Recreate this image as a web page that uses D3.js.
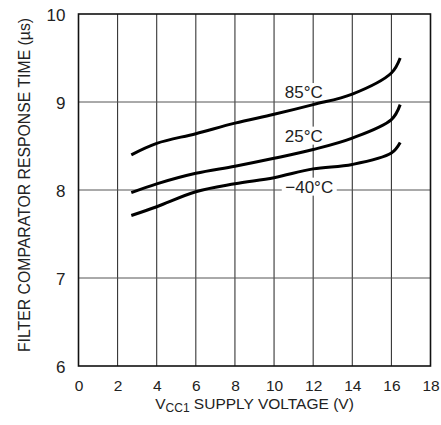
<!DOCTYPE html>
<html><head><meta charset="utf-8">
<script src="https://cdn.jsdelivr.net/npm/d3@7"></script>
<style>
body{margin:0;background:#fff;}
text{font-family:"Liberation Sans",Arial,Helvetica,sans-serif;fill:#222;}
</style></head>
<body><svg id="c" width="441" height="425"></svg>
<script>
const xVals = [2.7, 4, 6, 8, 10, 12, 14, 16, 16.45];
const t85 = [8.40, 8.53, 8.64, 8.76, 8.86, 8.97, 9.09, 9.33, 9.50];
const t25 = [7.97, 8.07, 8.19, 8.27, 8.36, 8.46, 8.59, 8.80, 8.97];
const tm40 = [7.71, 7.81, 7.98, 8.07, 8.14, 8.24, 8.29, 8.42, 8.54];
const seriesNames = ["85°C", "25°C", "−40°C"];
const xTicks = [0,2,4,6,8,10,12,14,16,18];
const yTicks = [6,7,8,9,10];

const svg = d3.select("#c");
const x = d3.scaleLinear().domain([0,18]).range([78.5,430.5]);
const y = d3.scaleLinear().domain([6,10]).range([366,14]);

// grid
svg.append("g").selectAll("line").data(xTicks.slice(1,-1)).join("line")
  .attr("x1",d=>x(d)).attr("x2",d=>x(d)).attr("y1",y(10)).attr("y2",y(6))
  .attr("stroke","#222").attr("stroke-width",1);
svg.append("g").selectAll("line").data(yTicks.slice(1,-1)).join("line")
  .attr("y1",d=>y(d)).attr("y2",d=>y(d)).attr("x1",x(0)).attr("x2",x(18))
  .attr("stroke","#555").attr("stroke-width",1);

// labels with white background
const labels = [
  {t:seriesNames[0], x:11.52, y:9.045, w:40},
  {t:seriesNames[1], x:11.52, y:8.55, w:40},
  {t:seriesNames[2], x:11.8, y:7.97, w:55}
];
const lg = svg.append("g");
labels.forEach(l=>{
  const cx = x(l.x), by = y(l.y);
  lg.append("rect").attr("x",cx-l.w/2).attr("y",by-15).attr("width",l.w).attr("height",18).attr("fill","#fff");
  lg.append("text").attr("x",cx).attr("y",by).attr("text-anchor","middle")
    .attr("font-size",17).text(l.t);
});

// frame
svg.append("rect").attr("x",x(0)).attr("y",y(10)).attr("width",x(18)-x(0)).attr("height",y(6)-y(10))
  .attr("fill","none").attr("stroke","#111").attr("stroke-width",1.6);

// curves
const line = d3.line().x(d=>x(d[0])).y(d=>y(d[1])).curve(d3.curveCatmullRom.alpha(0.5));
[t85,t25,tm40].forEach(s=>{
  svg.append("path").datum(xVals.map((v,i)=>[v,s[i]])).attr("d",line)
    .attr("fill","none").attr("stroke","#000").attr("stroke-width",3).attr("stroke-linecap","butt");
});

// axes
const xa = d3.axisBottom(x).tickValues(xTicks).tickFormat(d3.format("d")).tickSize(0).tickPadding(0);
const gx = svg.append("g").attr("transform","translate(0,379)").call(xa);
gx.select(".domain").remove();
gx.selectAll("text").attr("font-size",15.5).attr("y",0).attr("dy","0.75em").style("fill","#222")
  .style("font-family",'"Liberation Sans",Arial,sans-serif');
const ya = d3.axisLeft(y).tickValues(yTicks).tickFormat(d3.format("d")).tickSize(0).tickPadding(0);
const gy = svg.append("g").attr("transform","translate(65.5,0)").call(ya);
gy.select(".domain").remove();
gy.selectAll("text").attr("font-size",17).attr("dy","0.36em").style("fill","#222")
  .style("font-family",'"Liberation Sans",Arial,sans-serif');

// axis titles
const xt = svg.append("text").attr("x",254.5).attr("y",408.5).attr("text-anchor","middle").attr("font-size",15.5);
xt.append("tspan").text("V");
xt.append("tspan").attr("font-size",12).attr("dy",3).text("CC1");
xt.append("tspan").attr("dy",-3).text(" SUPPLY VOLTAGE (V)");

svg.append("text").attr("transform","translate(30,185) rotate(-90)").attr("text-anchor","middle")
  .attr("font-size",15.8).text("FILTER COMPARATOR RESPONSE TIME (µs)");
</script></body></html>
